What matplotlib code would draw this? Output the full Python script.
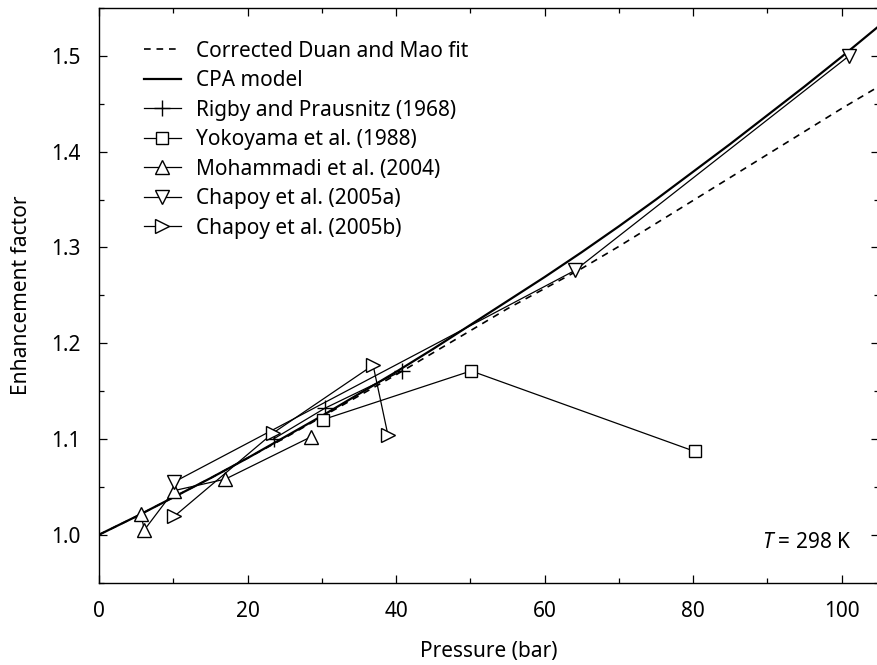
import matplotlib
matplotlib.use("Agg")
import matplotlib.pyplot as plt
from matplotlib.ticker import MultipleLocator

plt.rcParams['font.family'] = ['Noto Sans', 'DejaVu Sans']
plt.rcParams['mathtext.fontset'] = 'custom'
plt.rcParams['mathtext.it'] = 'Noto Sans:italic'
plt.rcParams['mathtext.rm'] = 'Noto Sans'

# model curves
model_p = [0, 5, 10, 15, 20, 25, 30, 35, 40, 45, 50, 55, 60, 65, 70, 75, 80, 85, 90, 95, 100, 105]
cpa = [1.000, 1.019, 1.039, 1.059, 1.080, 1.102, 1.124, 1.147, 1.170, 1.194, 1.219,
       1.244, 1.269, 1.295, 1.322, 1.350, 1.379, 1.408, 1.438, 1.468, 1.499, 1.531]
duan_mao = [1.000, 1.019, 1.039, 1.059, 1.080, 1.101, 1.123, 1.145, 1.167, 1.190, 1.213,
            1.236, 1.257, 1.278, 1.301, 1.325, 1.349, 1.373, 1.397, 1.421, 1.445, 1.468]

# experimental data
rigby_p = [23.5, 30.4, 40.8]
rigby_e = [1.100, 1.132, 1.171]

yoko_p = [30.1, 50.1, 80.2]
yoko_e = [1.120, 1.171, 1.087]

moham_p = [5.6, 6.1, 10.1, 17.0, 28.5]
moham_e = [1.022, 1.005, 1.046, 1.058, 1.102]

chapoy_a_p = [10.1, 64.1, 101.0]
chapoy_a_e = [1.055, 1.276, 1.500]

chapoy_b_p = [10.1, 23.4, 36.9, 38.9]
chapoy_b_e = [1.019, 1.106, 1.177, 1.104]

fig = plt.figure(figsize=(8.77, 6.65), dpi=100)
ax = fig.add_axes([0.113, 0.124, 0.889, 0.864])

ax.plot(model_p, duan_mao, 'k--', lw=1.2, dashes=(4, 3.5), label='Corrected Duan and Mao fit')
ax.plot(model_p, cpa, 'k-', lw=1.6, label='CPA model')

mk = dict(color='black', lw=0.9, markerfacecolor='white', markeredgecolor='black',
          markeredgewidth=1.0)
ax.plot(rigby_p, rigby_e, marker='+', ms=12, label='Rigby and Prausnitz (1968)', **mk)
ax.plot(yoko_p, yoko_e, marker='s', ms=8, label='Yokoyama et al. (1988)', **mk)
ax.plot(moham_p, moham_e, marker='^', ms=10, label='Mohammadi et al. (2004)', **mk)
ax.plot(chapoy_a_p, chapoy_a_e, marker='v', ms=10, label='Chapoy et al. (2005a)', **mk)
ax.plot(chapoy_b_p, chapoy_b_e, marker='>', ms=10, label='Chapoy et al. (2005b)', **mk)

ax.set_xlim(0, 105)
ax.set_ylim(0.95, 1.55)
ax.xaxis.set_major_locator(MultipleLocator(20))
ax.xaxis.set_minor_locator(MultipleLocator(10))
ax.yaxis.set_minor_locator(MultipleLocator(0.05))
ax.set_yticks([1.0, 1.1, 1.2, 1.3, 1.4, 1.5])
ax.set_yticklabels(['1.0', '1.1', '1.2', '1.3', '1.4', '1.5'])
ax.tick_params(which='both', direction='in', top=True, right=True, labelsize=15, pad=13)
ax.tick_params(which='major', length=6, width=0.9)
ax.tick_params(which='minor', length=3.6, width=0.9)
for s in ax.spines.values():
    s.set_linewidth(1.0)

ax.set_xlabel('Pressure (bar)', fontsize=15, labelpad=14)
ax.set_ylabel('Enhancement factor', fontsize=15, labelpad=14)

ax.text(101.3, 0.992, '$T$ = 298 K', fontsize=15, ha='right', va='center')

ax.legend(loc='upper left', bbox_to_anchor=(0.033, 0.976), frameon=False, fontsize=15,
          handlelength=1.8, handletextpad=0.7, labelspacing=0.41)

fig.savefig('out.png', dpi=100)
